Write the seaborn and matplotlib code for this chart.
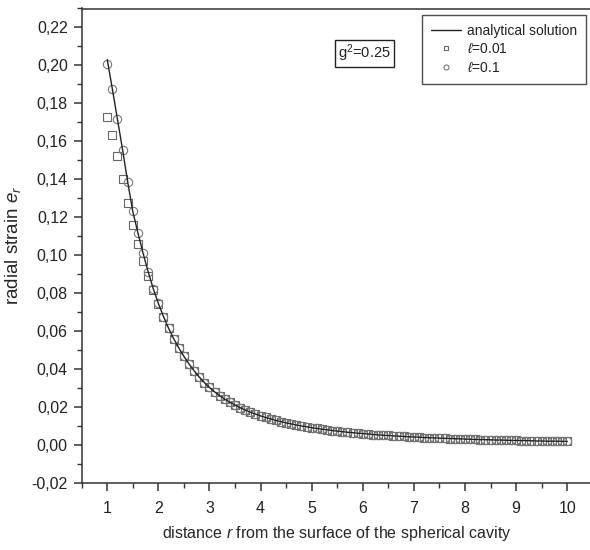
import matplotlib
matplotlib.use("Agg")
import matplotlib.pyplot as plt
from matplotlib import font_manager
from matplotlib.ticker import FixedLocator, MultipleLocator, FuncFormatter
import seaborn as sns
import pandas as pd

# distance from the cavity surface
r = [1.0, 1.1, 1.2, 1.3, 1.4, 1.5, 1.6, 1.7, 1.8, 1.9,
     2.0, 2.1, 2.2, 2.3, 2.4, 2.5, 2.6, 2.7, 2.8, 2.9,
     3.0, 3.1, 3.2, 3.3, 3.4, 3.5, 3.6, 3.7, 3.8, 3.9,
     4.0, 4.1, 4.2, 4.3, 4.4, 4.5, 4.6, 4.7, 4.8, 4.9,
     5.0, 5.1, 5.2, 5.3, 5.4, 5.5, 5.6, 5.7, 5.8, 5.9,
     6.0, 6.1, 6.2, 6.3, 6.4, 6.5, 6.6, 6.7, 6.8, 6.9,
     7.0, 7.1, 7.2, 7.3, 7.4, 7.5, 7.6, 7.7, 7.8, 7.9,
     8.0, 8.1, 8.2, 8.3, 8.4, 8.5, 8.6, 8.7, 8.8, 8.9,
     9.0, 9.1, 9.2, 9.3, 9.4, 9.5, 9.6, 9.7, 9.8, 9.9,
     10.0]

# radial strain, analytical solution
strain_analytical = [
    0.2030, 0.1875, 0.1715, 0.1555, 0.1385, 0.1230, 0.1117, 0.1011, 0.0912, 0.0823,
    0.0745, 0.0676, 0.0614, 0.0559, 0.0510, 0.0466, 0.0426, 0.0390, 0.0357, 0.0328,
    0.0302, 0.0279, 0.0259, 0.0240, 0.0224, 0.0209, 0.0195, 0.0183, 0.0172, 0.0162,
    0.0152, 0.0144, 0.0136, 0.0128, 0.0122, 0.0115, 0.0110, 0.0104, 0.0099, 0.0095,
    0.0090, 0.0086, 0.0082, 0.0079, 0.0075, 0.0072, 0.0069, 0.0066, 0.0064, 0.0061,
    0.0059, 0.0057, 0.0054, 0.0052, 0.0050, 0.0049, 0.0047, 0.0045, 0.0044, 0.0042,
    0.0041, 0.0040, 0.0038, 0.0037, 0.0036, 0.0035, 0.0034, 0.0033, 0.0032, 0.0031,
    0.0030, 0.0029, 0.0028, 0.0027, 0.0027, 0.0026, 0.0025, 0.0025, 0.0024, 0.0023,
    0.0023, 0.0022, 0.0022, 0.0021, 0.0020, 0.0020, 0.0019, 0.0019, 0.0019, 0.0018,
    0.0018]

# radial strain, numerical, l = 0.01
strain_l001 = [
    0.1730, 0.1635, 0.1525, 0.1400, 0.1275, 0.1160, 0.1060, 0.0970, 0.0890, 0.0815,
    0.0742, 0.0676, 0.0614, 0.0559, 0.0510, 0.0466, 0.0426, 0.0390, 0.0357, 0.0328,
    0.0302, 0.0279, 0.0259, 0.0240, 0.0224, 0.0209, 0.0195, 0.0183, 0.0172, 0.0162,
    0.0152, 0.0144, 0.0136, 0.0128, 0.0122, 0.0115, 0.0110, 0.0104, 0.0099, 0.0095,
    0.0090, 0.0086, 0.0082, 0.0079, 0.0075, 0.0072, 0.0069, 0.0066, 0.0064, 0.0061,
    0.0059, 0.0057, 0.0054, 0.0052, 0.0050, 0.0049, 0.0047, 0.0045, 0.0044, 0.0042,
    0.0041, 0.0040, 0.0038, 0.0037, 0.0036, 0.0035, 0.0034, 0.0033, 0.0032, 0.0031,
    0.0030, 0.0029, 0.0028, 0.0027, 0.0027, 0.0026, 0.0025, 0.0025, 0.0024, 0.0023,
    0.0023, 0.0022, 0.0022, 0.0021, 0.0020, 0.0020, 0.0019, 0.0019, 0.0019, 0.0018,
    0.0018]

# radial strain, numerical, l = 0.1
strain_l01 = [
    0.2010, 0.1875, 0.1715, 0.1555, 0.1385, 0.1230, 0.1117, 0.1011, 0.0912, 0.0823,
    0.0745, 0.0676, 0.0614, 0.0559, 0.0510, 0.0466, 0.0426, 0.0390, 0.0357, 0.0328,
    0.0302, 0.0279, 0.0259, 0.0240, 0.0224, 0.0209, 0.0195, 0.0183, 0.0172, 0.0162,
    0.0152, 0.0144, 0.0136, 0.0128, 0.0122, 0.0115, 0.0110, 0.0104, 0.0099, 0.0095,
    0.0090, 0.0086, 0.0082, 0.0079, 0.0075, 0.0072, 0.0069, 0.0066, 0.0064, 0.0061,
    0.0059, 0.0057, 0.0054, 0.0052, 0.0050, 0.0049, 0.0047, 0.0045, 0.0044, 0.0042,
    0.0041, 0.0040, 0.0038, 0.0037, 0.0036, 0.0035, 0.0034, 0.0033, 0.0032, 0.0031,
    0.0030, 0.0029, 0.0028, 0.0027, 0.0027, 0.0026, 0.0025, 0.0025, 0.0024, 0.0023,
    0.0023, 0.0022, 0.0022, 0.0021, 0.0020, 0.0020, 0.0019, 0.0019, 0.0019, 0.0018,
    0.0018]

x_ticks = [1, 2, 3, 4, 5, 6, 7, 8, 9, 10]
y_ticks = [-0.02, 0.00, 0.02, 0.04, 0.06, 0.08, 0.10, 0.12, 0.14, 0.16,
           0.18, 0.20, 0.22]

sns.set_style("ticks")
names = {f.name for f in font_manager.fontManager.ttflist}
base = "Liberation Sans Narrow" if "Liberation Sans Narrow" in names else "Liberation Sans"
plt.rcParams["font.family"] = [base, "DejaVu Sans"]
plt.rcParams["mathtext.fontset"] = "custom"
plt.rcParams["mathtext.rm"] = base
plt.rcParams["mathtext.it"] = base + ":italic"
plt.rcParams["text.color"] = "#222222"

df = pd.DataFrame({"r": r, "analytical": strain_analytical,
                   "l001": strain_l001, "l01": strain_l01})

fig = plt.figure(figsize=(5.9, 5.5), dpi=100)
ax = fig.add_axes([81.7 / 590, 1 - 482.7 / 550, (592.8 - 81.7) / 590, (482.7 - 8.5) / 550])

sns.lineplot(data=df, x="r", y="analytical", ax=ax, color="#222222", lw=1.0,
             label="analytical solution", zorder=3)
sns.lineplot(data=df, x="r", y="l001", ax=ax, linestyle="", marker="s",
             markersize=5.5, markerfacecolor="none", markeredgecolor="#666666",
             markeredgewidth=0.8, color="#666666", label=r"$\ell$=0.01", zorder=2)
sns.lineplot(data=df, x="r", y="l01", ax=ax, linestyle="", marker="o",
             markersize=6, markerfacecolor="none", markeredgecolor="#777777",
             markeredgewidth=0.8, color="#777777", label=r"$\ell$=0.1", zorder=2)

ax.set_xlim(0.5, 10.5)
ax.set_ylim(-0.02, 0.23)
ax.xaxis.set_major_locator(FixedLocator(x_ticks))
ax.xaxis.set_minor_locator(MultipleLocator(0.5))
ax.yaxis.set_major_locator(FixedLocator(y_ticks))
ax.yaxis.set_minor_locator(MultipleLocator(0.01))
ax.yaxis.set_major_formatter(FuncFormatter(lambda v, p: f"{v:.2f}".replace(".", ",").replace("-0,00", "0,00")))
ax.xaxis.set_major_formatter(FuncFormatter(lambda v, p: f"{v:g}"))

for s in ["left", "bottom", "top"]:
    ax.spines[s].set_linewidth(1.1)
    ax.spines[s].set_color("#333333")
ax.spines["right"].set_visible(False)
ax.tick_params(which="major", direction="out", length=6, width=1.1, color="#333333",
               labelsize=11.5, labelcolor="#222222", top=False, right=False)
ax.tick_params(which="minor", direction="out", length=3.5, width=1.0, color="#333333",
               top=False, right=False)
ax.tick_params(axis="x", which="major", pad=7)
ax.tick_params(axis="y", which="major", pad=4)

ax.set_xlabel(r"distance $r$ from the surface of the spherical cavity", fontsize=11.5, labelpad=6)
ax.set_ylabel(r"radial strain $e_r$", fontsize=13.5, labelpad=6)

leg = ax.legend(loc="upper left", bbox_to_anchor=(0.665, 0.987), frameon=True,
                fancybox=False, edgecolor="#222222", fontsize=10, handlelength=2.2,
                borderpad=0.65, labelspacing=0.33, handletextpad=0.4, markerscale=0.6,
                borderaxespad=0)
leg.get_frame().set_linewidth(1.0)

ax.text(0.553, 0.905, r"g$^2$=0.25", transform=ax.transAxes, fontsize=10.5,
        ha="center", va="center",
        bbox=dict(boxstyle="square,pad=0.2", fc="white", ec="#222222", lw=1.0))

fig.savefig("out.png", dpi=100)
